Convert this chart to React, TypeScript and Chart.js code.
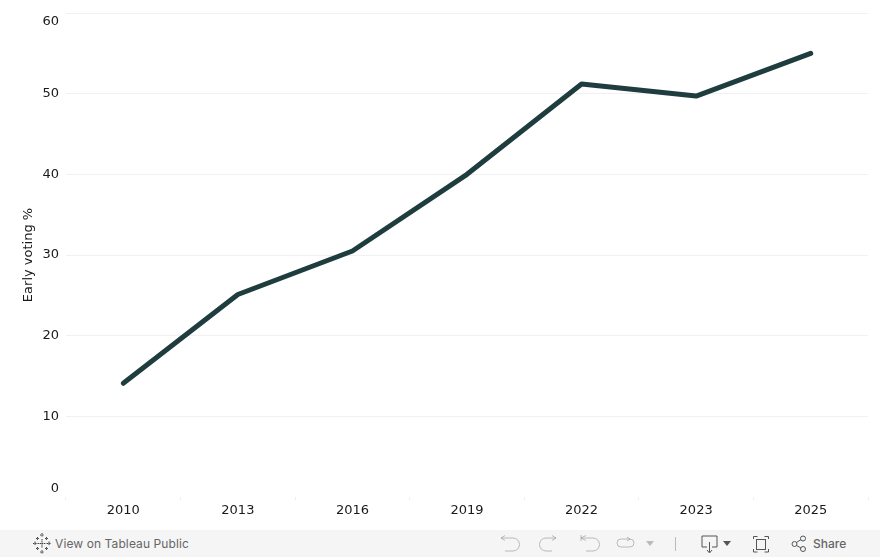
import React, { useEffect, useRef } from "react";
import { Chart, registerables } from "chart.js";

Chart.register(...registerables);

const years = ["2010", "2013", "2016", "2019", "2022", "2023", "2025"];
const earlyVoting = [14.1, 25.1, 30.5, 40, 51.2, 49.7, 55];
const yTicks = [0, 10, 20, 30, 40, 50, 60];

const FONT = "'DejaVu Sans', sans-serif";
const UI = "Inter, 'Noto Sans', sans-serif";
const ICON = "#8f9496";

function Icon({ x, w = 24, children }: { x: number; w?: number; children: React.ReactNode }) {
  return (
    <svg
      style={{ position: "absolute", left: x, top: 0, overflow: "visible" }}
      width={w}
      height={27}
      fill="none"
      stroke={ICON}
      strokeWidth={1}
    >
      {children}
    </svg>
  );
}

export default function App() {
  const ref = useRef<HTMLCanvasElement | null>(null);

  useEffect(() => {
    const chart = new Chart(ref.current as HTMLCanvasElement, {
      type: "line",
      data: {
        labels: years,
        datasets: [
          {
            label: "Early voting %",
            data: earlyVoting,
            borderColor: "#1f3d3e",
            borderWidth: 5,
            borderCapStyle: "round",
            borderJoinStyle: "round",
            pointRadius: 0,
            tension: 0,
            clip: false,
          },
        ],
      },
      options: {
        animation: false,
        responsive: false,
        layout: { padding: { top: 13, right: 12, bottom: 0, left: 21 } },
        plugins: { legend: { display: false }, tooltip: { enabled: false } },
        scales: {
          x: {
            offset: true,
            border: { display: false },
            grid: {
              drawOnChartArea: false,
              drawTicks: true,
              tickLength: 3,
              color: "#eeeeee",
              offset: true,
            },
            ticks: {
              color: "#1a1a1a",
              padding: 3,
              maxRotation: 0,
              font: { family: FONT, size: 13 },
            },
            afterFit: (s: any) => {
              s.height = 33;
              s.paddingLeft = 0;
              s.paddingRight = 0;
            },
          },
          y: {
            min: 0,
            max: 60,
            border: { display: false },
            afterBuildTicks: (s: any) => {
              s.ticks = yTicks.map((value) => ({ value }));
            },
            grid: {
              color: (c: any) => (c.tick && c.tick.value === 0 ? "rgba(0,0,0,0)" : "#f1f1f1"),
              lineWidth: 1,
              drawTicks: false,
            },
            title: {
              display: true,
              text: "Early voting %",
              color: "#1a1a1a",
              padding: { top: 0, bottom: 0 },
              font: { family: FONT, size: 13 },
            },
            ticks: {
              color: "#1a1a1a",
              padding: 7,
              font: { family: FONT, size: 13, lineHeight: "17px" },
              // the end labels sit inside the axis range: a blank line moves them by half a line
              callback: (v: any) =>
                v === 60 ? ["", "60"] : v === 0 ? ["0", ""] : String(v),
            },
            afterFit: (s: any) => {
              s.width = 45;
              s.paddingTop = 0;
              s.paddingBottom = 0;
            },
          },
        },
      },
    } as any);
    return () => chart.destroy();
  }, []);

  const logoDots = [
    "M9 3v4M7 5h4", "M9 20v4M7 22h4", "M2 11.500v4M0 13.500h4", "M16 11.500v4M14 13.500h4",
    "M4.500 7v3M3 8.500h3", "M13.500 7v3M12 8.500h3", "M4.500 17v3M3 18.500h3", "M13.500 17v3M12 18.500h3",
    "M9 9v9M4.500 13.500h9",
  ];

  return (
    <div style={{ position: "absolute", left: 0, top: 0, width: 880, height: 557, background: "#fff", overflow: "hidden" }}>
      <canvas ref={ref} width={880} height={530} style={{ display: "block" }} />
      <div style={{ position: "absolute", left: 0, top: 530, width: 880, height: 27, background: "#f5f5f5" }}>
        <Icon x={33}>
          <g stroke="#444" strokeWidth={1} strokeDasharray="1.500 0.600">
            {logoDots.map((d) => (
              <path key={d} d={d} />
            ))}
          </g>
        </Icon>
        <div style={{ position: "absolute", left: 55, top: 6, font: `12px ${UI}`, letterSpacing: 0.1, color: "#666", whiteSpace: "nowrap" }}>
          View on Tableau Public
        </div>
        <Icon x={498}><path d="M3 8h12a6.500 6.500 0 0 1 0 13H7M3 8l4-2.500M3 8l4 2.500" opacity={0.6} /></Icon>
        <Icon x={538}><path d="M18 8H8a6.500 6.500 0 0 0 0 13h6M18 8l-4-2.500M18 8l-4 2.500" opacity={0.6} /></Icon>
        <Icon x={578}><path d="M3 5v6M3 8h12a6.500 6.500 0 0 1 0 13H8M3 8l5-2.500M3 8l5 2.500" opacity={0.6} /></Icon>
        <Icon x={615}><path d="M6 9h9a4 4 0 0 1 0 8H6a4 4 0 0 1 0-8zM15 9l-3-2M15 9l-3 2" opacity={0.6} /></Icon>
        <Icon x={645}><path d="M1 11h8l-4 5z" fill="#bbb" stroke="none" /></Icon>
        <Icon x={675}><path d="M0.500 7v14" stroke="#bbb" /></Icon>
        <Icon x={701}>
          <path d="M1 6h15v11h-5M6 17H1V6M8.500 12v10M6 20l2.500 3 2.500-3" stroke="#555" />
          <path d="M22 11h8l-4 5z" fill="#555" stroke="none" />
        </Icon>
        <Icon x={753}>
          <path d="M0.500 9V6.500h4M11.500 6.500h4V9M15.500 19v3h-4M4.500 22h-4v-3" stroke="#555" />
          <rect x={3.500} y={9.500} width={9} height={10} stroke="#555" />
        </Icon>
        <Icon x={791}>
          <g stroke="#555">
            <circle cx={3.500} cy={14} r={2.500} />
            <circle cx={12} cy={8.500} r={2.500} />
            <circle cx={12} cy={19} r={2.500} />
            <path d="M5.500 12.500l4.500-3M5.500 15.500l4.500 2.500" />
          </g>
        </Icon>
        <div style={{ position: "absolute", left: 813, top: 6, font: `500 12px ${UI}`, color: "#666" }}>Share</div>
      </div>
    </div>
  );
}
